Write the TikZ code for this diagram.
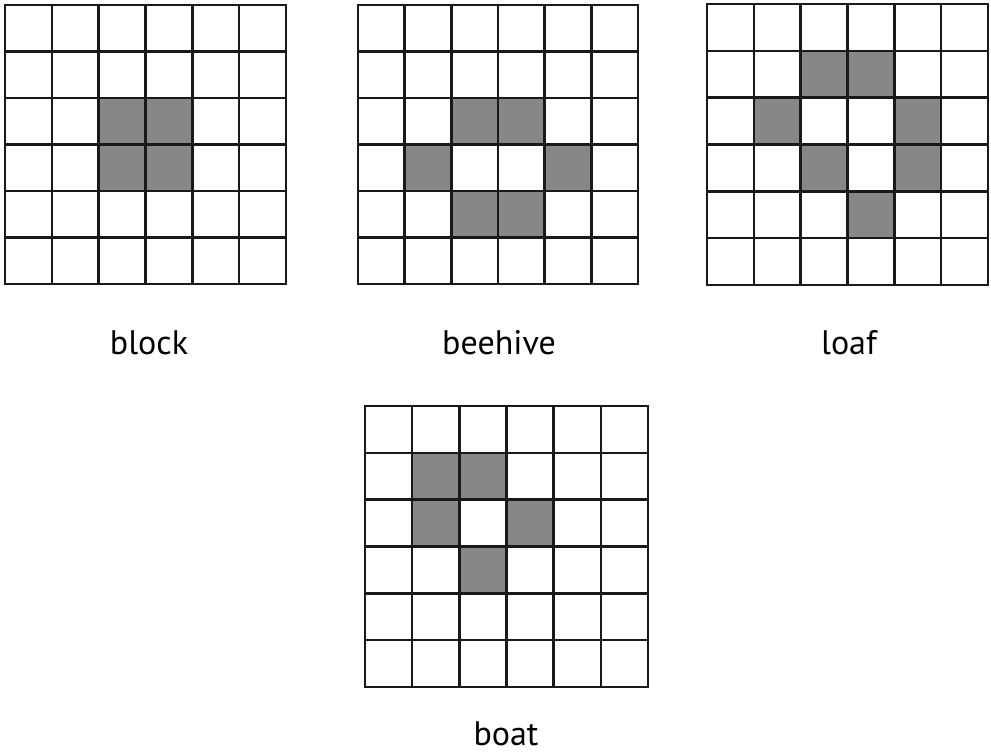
\documentclass[tikz,border=0pt]{standalone}
\usepackage{fontspec}
\setmainfont{PT Sans}
\tikzset{
  gridline/.style={line width=2.4pt, line cap=rect, black!90},
  cellfill/.style={fill=black!47},
  lbl/.style={font=\fontsize{34}{36}\selectfont, inner sep=0pt, anchor=base}
}
\newcommand\lifegrid[5]{%
  \pgfmathsetmacro\cw{(#3-#1)/6}%
  \pgfmathsetmacro\ch{(#4-#2)/6}%
  \foreach \r/\c in {#5} {\fill[cellfill] (#1+\c*\cw, #2+\r*\ch) rectangle ++(\cw,\ch);}
  \foreach \i in {0,...,6} {
    \draw[gridline] (#1+\i*\cw,#2) -- (#1+\i*\cw,#4);
    \draw[gridline] (#1,#2+\i*\ch) -- (#3,#2+\i*\ch);
  }
}
\begin{document}
\begin{tikzpicture}[x=1pt,y=-1pt]
\useasboundingbox[fill=white] (0,0) rectangle (991,755);
\lifegrid{5}{5}{286}{284}{2/2,2/3,3/2,3/3}
\lifegrid{358}{5}{638}{284}{2/2,2/3,3/1,3/4,4/2,4/3}
\lifegrid{707}{4}{988}{285}{1/2,1/3,2/1,2/4,3/2,3/4,4/3}
\lifegrid{365}{406}{648}{687}{1/1,1/2,2/1,2/3,3/2}
\node[lbl] (lblock) at (149,354) {block};
\node[lbl] (lbeehive) at (499,354) {beehive};
\node[lbl] (lloaf) at (849,354) {loaf};
\node[lbl] (lboat) at (506,745) {boat};
\end{tikzpicture}
\end{document}
